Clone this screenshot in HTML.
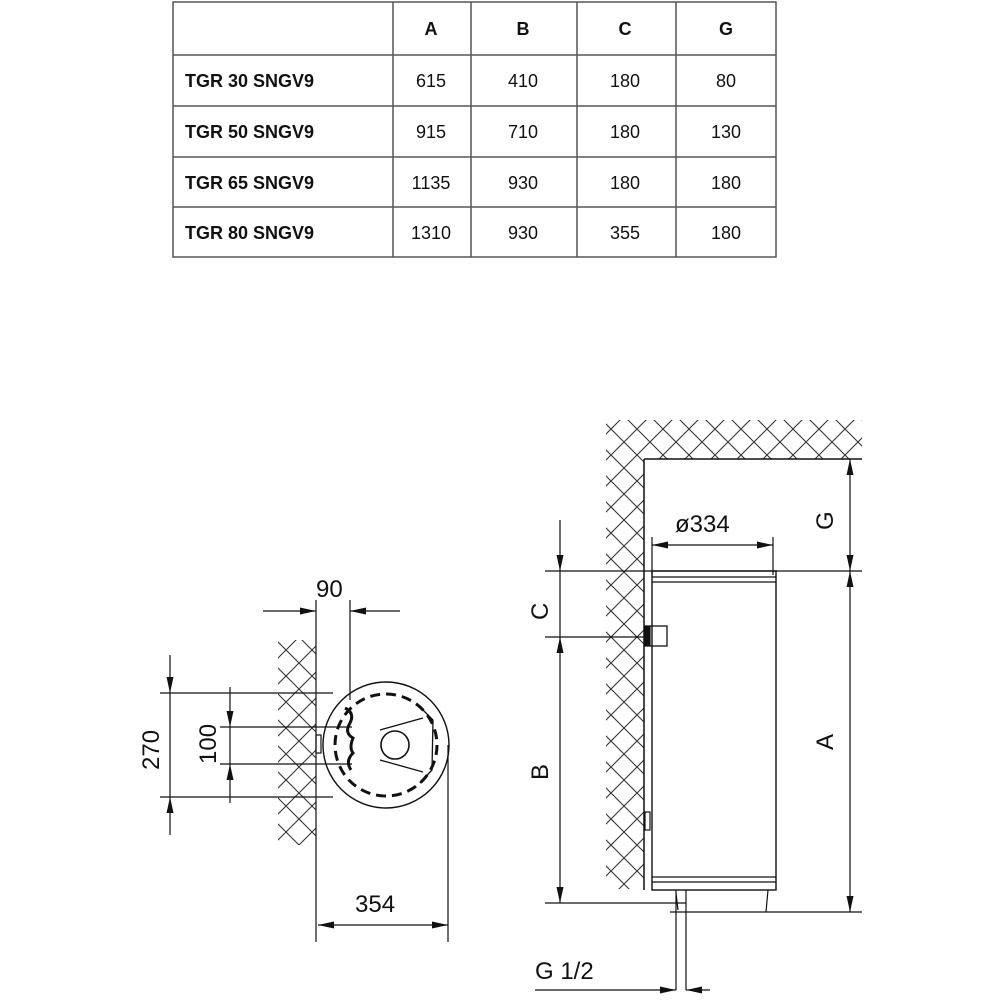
<!DOCTYPE html>
<html><head><meta charset="utf-8"><style>
html,body{margin:0;padding:0;background:#fff;width:1000px;height:1000px;overflow:hidden}
svg{display:block}
.t{font-family:"Liberation Sans",sans-serif;font-size:18px;fill:#111}
.b{font-weight:bold}
.d{font-family:"Liberation Sans",sans-serif;font-size:24px;fill:#111}
</style></head><body>
<svg width="1000" height="1000" viewBox="0 0 1000 1000" xmlns="http://www.w3.org/2000/svg">
<defs>
<pattern id="h" width="26" height="26" patternUnits="userSpaceOnUse">
<path d="M0 0L26 26M26 0L0 26" stroke="#333" stroke-width="1.1" fill="none"/>
</pattern>
<marker id="a" viewBox="0 0 16 7" refX="16" refY="3.5" markerWidth="16" markerHeight="7" orient="auto-start-reverse" markerUnits="userSpaceOnUse">
<path d="M0 0L16 3.5L0 7z" fill="#111"/>
</marker>
</defs>
<!-- table -->
<g stroke="#555" stroke-width="1.5" fill="none">
<rect x="173" y="2" width="603" height="255"/>
<path d="M173 55H776M173 106H776M173 157H776M173 207H776M393 2V257M471 2V257M577 2V257M676 2V257"/>
</g>
<g class="t" text-anchor="middle">
<text x="431" y="35" class="b">A</text><text x="523" y="35" class="b">B</text><text x="625" y="35" class="b">C</text><text x="726" y="35" class="b">G</text>
<text x="431" y="87">615</text><text x="523" y="87">410</text><text x="625" y="87">180</text><text x="726" y="87">80</text>
<text x="431" y="138">915</text><text x="523" y="138">710</text><text x="625" y="138">180</text><text x="726" y="138">130</text>
<text x="431" y="189">1135</text><text x="523" y="189">930</text><text x="625" y="189">180</text><text x="726" y="189">180</text>
<text x="431" y="239">1310</text><text x="523" y="239">930</text><text x="625" y="239">355</text><text x="726" y="239">180</text>
</g>
<g class="t b">
<text x="185" y="87">TGR 30 SNGV9</text><text x="185" y="138">TGR 50 SNGV9</text><text x="185" y="189">TGR 65 SNGV9</text><text x="185" y="239">TGR 80 SNGV9</text>
</g>

<!-- left diagram -->
<rect x="278" y="640" width="38" height="205" fill="url(#h)"/>
<g stroke="#111" stroke-width="1.2" fill="none">
<path d="M316 600V942M350 600V700M448 745V942"/>
<line x1="263" y1="611" x2="316" y2="611" marker-end="url(#a)"/>
<line x1="400" y1="611" x2="350" y2="611" marker-end="url(#a)"/>
<line x1="318" y1="925" x2="448" y2="925" marker-start="url(#a)" marker-end="url(#a)"/>
<path d="M160 693H333M160 797H333M220 727H352M220 764H352"/>
<line x1="170" y1="655" x2="170" y2="693" marker-end="url(#a)"/>
<line x1="170" y1="835" x2="170" y2="797" marker-end="url(#a)"/>
<line x1="170" y1="693" x2="170" y2="797"/>
<line x1="230" y1="687" x2="230" y2="727" marker-end="url(#a)"/>
<line x1="230" y1="803" x2="230" y2="764" marker-end="url(#a)"/>
<line x1="230" y1="727" x2="230" y2="764"/>
<rect x="316" y="735" width="5" height="18"/>
<circle cx="386" cy="745" r="63" stroke-width="1.4"/>
<circle cx="386" cy="745" r="51" stroke-width="3" stroke-dasharray="10 6"/>
<path d="M420 707L433 720L432 770L420 783M423 718L380 730M423 772L380 760" stroke-width="1.3"/>
<circle cx="395" cy="745" r="14" stroke-width="1.6"/>
<path d="M345 708q10 5 5 15q-6 10 3 15q-4 10 0 15q-8 8 -2 17" stroke-width="3"/>
</g>
<g class="d">
<text x="316" y="597">90</text>
<text x="355" y="912">354</text>
<text transform="translate(159,770) rotate(-90)">270</text>
<text transform="translate(216,764) rotate(-90)">100</text>
</g>

<!-- right diagram -->
<rect x="606" y="420" width="256" height="39" fill="url(#h)"/>
<rect x="606" y="459" width="38" height="430" fill="url(#h)"/>
<g stroke="#111" stroke-width="1.2" fill="none">
<path d="M644 459V890M644 459H862" stroke-width="1.5"/>
<path d="M652 537V575M773 537V575"/>
<line x1="652" y1="545" x2="773" y2="545" marker-start="url(#a)" marker-end="url(#a)"/>
<path d="M545 571H862M545 637H650M545 903H686M670 912H862"/>
<line x1="560" y1="520" x2="560" y2="571" marker-end="url(#a)"/>
<line x1="560" y1="571" x2="560" y2="637"/>
<line x1="560" y1="637" x2="560" y2="903" marker-start="url(#a)" marker-end="url(#a)"/>
<line x1="850" y1="459" x2="850" y2="571" marker-start="url(#a)" marker-end="url(#a)"/>
<line x1="850" y1="571" x2="850" y2="912" marker-start="url(#a)" marker-end="url(#a)"/>
<rect x="652" y="571" width="124" height="319" stroke-width="1.4"/>
<path d="M652 577H776M652 582H776M652 877H776M652 882H776"/>
<rect x="645" y="626" width="22" height="20" stroke-width="1.3"/>
<rect x="645" y="627" width="5" height="18" fill="#111"/>
<rect x="645" y="812" width="5" height="18"/>
<path d="M676 890V990M686 890V990M676 893L678 910M768 890L766 912"/>
<line x1="535" y1="990" x2="676" y2="990" marker-end="url(#a)"/>
<line x1="710" y1="990" x2="686" y2="990" marker-end="url(#a)"/>
</g>
<g class="d">
<text x="675" y="532">ø334</text>
<text transform="translate(548,620) rotate(-90)">C</text>
<text transform="translate(548,780) rotate(-90)">B</text>
<text transform="translate(833,750) rotate(-90)">A</text>
<text transform="translate(833,530) rotate(-90)">G</text>
<text x="535" y="979">G 1/2</text>
</g>
</svg>
</body></html>
